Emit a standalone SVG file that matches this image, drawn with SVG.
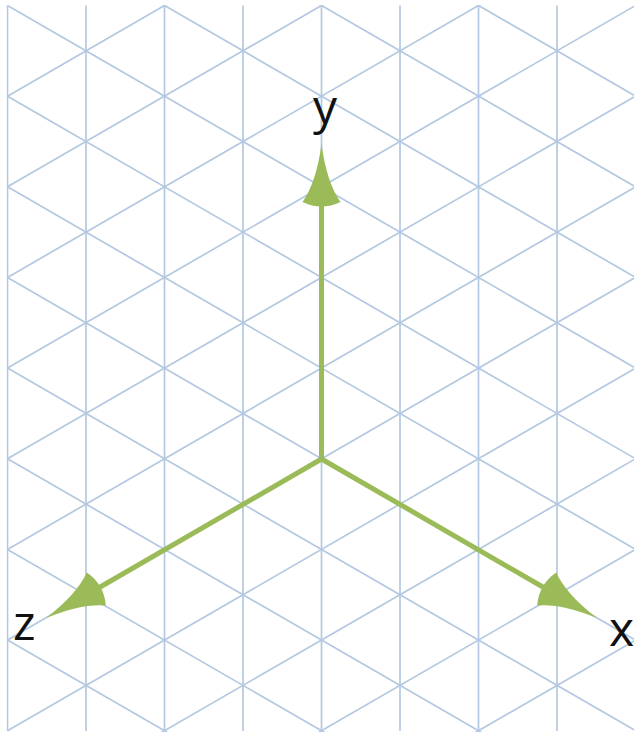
<svg xmlns="http://www.w3.org/2000/svg" xmlns:xlink="http://www.w3.org/1999/xlink" width="634" height="734" viewBox="0 0 634 734">
  <style>
    .grid line { stroke: #b3c8e0; stroke-width: 1.7; fill: none; }
    .axis { stroke: #9bbb59; stroke-width: 5; fill: none; }
    .head { fill: #9bbb59; stroke: none; }
    .lbl { font-family: "Open Sans", "Noto Sans", "Liberation Sans", sans-serif; font-size: 48px; fill: #111111; }
  </style>
  <defs>
    <clipPath id="gridclip">
      <rect x="6.5" y="5" width="630" height="727"/>
    </clipPath>
    <path id="arrowhead" d="M0,0 Q-38,-5 -58,-19 Q-67,0 -58,19 Q-38,5 0,0 Z"/>
  </defs>
  <rect width="634" height="734" fill="#ffffff"/>
  <g id="grid" class="grid" clip-path="url(#gridclip)">
    <line x1="7.5" y1="5.5" x2="7.5" y2="731"/>
    <line x1="86" y1="5.5" x2="86" y2="731"/>
    <line x1="164.5" y1="5.5" x2="164.5" y2="731"/>
    <line x1="243" y1="5.5" x2="243" y2="731"/>
    <line x1="321.5" y1="5.5" x2="321.5" y2="731"/>
    <line x1="400" y1="5.5" x2="400" y2="731"/>
    <line x1="478.5" y1="5.5" x2="478.5" y2="731"/>
    <line x1="557" y1="5.5" x2="557" y2="731"/>
    <line x1="635.5" y1="5.5" x2="635.5" y2="731"/>
    <line x1="7.5" y1="-266.45" x2="635.5" y2="96.15"/>
    <line x1="7.5" y1="-175.8" x2="635.5" y2="186.8"/>
    <line x1="7.5" y1="-85.15" x2="635.5" y2="277.45"/>
    <line x1="7.5" y1="5.5" x2="635.5" y2="368.1"/>
    <line x1="7.5" y1="96.15" x2="635.5" y2="458.75"/>
    <line x1="7.5" y1="186.8" x2="635.5" y2="549.4"/>
    <line x1="7.5" y1="277.45" x2="635.5" y2="640.05"/>
    <line x1="7.5" y1="368.1" x2="635.5" y2="730.7"/>
    <line x1="7.5" y1="458.75" x2="635.5" y2="821.35"/>
    <line x1="7.5" y1="549.4" x2="635.5" y2="912"/>
    <line x1="7.5" y1="640.05" x2="635.5" y2="1002.65"/>
    <line x1="7.5" y1="96.15" x2="635.5" y2="-266.45"/>
    <line x1="7.5" y1="186.8" x2="635.5" y2="-175.8"/>
    <line x1="7.5" y1="277.45" x2="635.5" y2="-85.15"/>
    <line x1="7.5" y1="368.1" x2="635.5" y2="5.5"/>
    <line x1="7.5" y1="458.75" x2="635.5" y2="96.15"/>
    <line x1="7.5" y1="549.4" x2="635.5" y2="186.8"/>
    <line x1="7.5" y1="640.05" x2="635.5" y2="277.45"/>
    <line x1="7.5" y1="730.7" x2="635.5" y2="368.1"/>
    <line x1="7.5" y1="821.35" x2="635.5" y2="458.75"/>
    <line x1="7.5" y1="912" x2="635.5" y2="549.4"/>
    <line x1="7.5" y1="1002.65" x2="635.5" y2="640.05"/>
  </g>
  <g id="connectors">
    <g id="axis-y">
      <line class="axis" x1="321.5" y1="459" x2="321.5" y2="200"/>
      <use xlink:href="#arrowhead" class="head" transform="translate(321.5,144) rotate(-90)"/>
    </g>
    <g id="axis-x">
      <line class="axis" x1="321.5" y1="459" x2="548" y2="590"/>
      <use xlink:href="#arrowhead" class="head" transform="translate(596.9,618) rotate(30)"/>
    </g>
    <g id="axis-z">
      <line class="axis" x1="321.5" y1="459" x2="95" y2="590"/>
      <use xlink:href="#arrowhead" class="head" transform="translate(46.1,618) rotate(150)"/>
    </g>
  </g>
  <g id="label-y"><text class="lbl" x="325" y="124" text-anchor="middle">y</text></g>
  <g id="label-z"><text class="lbl" x="13" y="640">z</text></g>
  <g id="label-x"><text class="lbl" x="609" y="646">x</text></g>
</svg>
